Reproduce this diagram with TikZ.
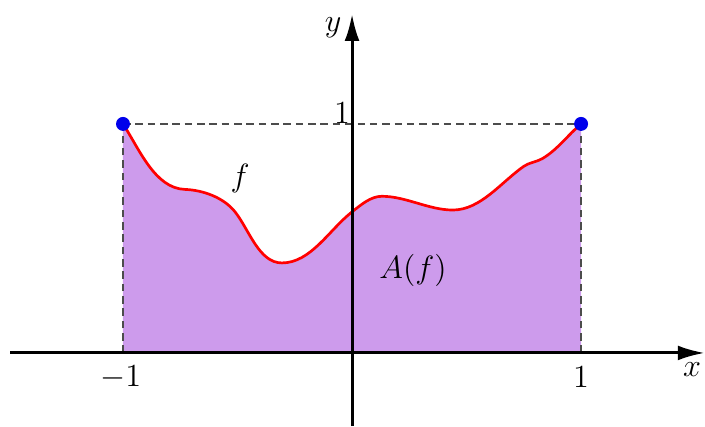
\documentclass[tikz,border=0pt]{standalone}
\usepackage{amsmath,amssymb}
\usepackage{xcolor}
\usepackage{tikz}
\usetikzlibrary{arrows.meta,calc}
\definecolor{areafill}{RGB}{205,155,236}
\definecolor{dotblue}{RGB}{0,0,235}
\newcommand{\fgraph}{(-1.000,1.000) to[out=-57,in=178] (-0.730,0.714)
  to[out=-2,in=128] (-0.510,0.615) to[out=-52,in=180] (-0.306,0.393)
  to[out=0,in=-142] (0.000,0.616) to[out=38,in=180] (0.130,0.684)
  to[out=0,in=180] (0.440,0.624) to[out=0,in=-145] (0.750,0.815)
  to[out=35,in=-150] (0.830,0.848) to[out=30,in=-140] (1.000,1.000)}

\begin{document}
\begin{tikzpicture}[x=3cm,y=3cm,>={Latex[length=10pt,width=5.5pt]},line join=round,font=\large,looseness=0.85]
  \useasboundingbox (-1.537,-0.319) rectangle (1.541,1.541);
  \coordinate (O) at (0.000,0.000);
  \coordinate (XL) at (-1.493,0.000);
  \coordinate (XR) at (1.540,0.000);
  \coordinate (YB) at (0.000,-0.319);
  \coordinate (YT) at (0.000,1.480);
  \coordinate (A) at (-1.000,1.000);
  \coordinate (B) at (1.000,1.000);
  \coordinate (A0) at (-1.000,0.000);
  \coordinate (B0) at (1.000,0.000);
  \fill[areafill] (A0) -- \fgraph -- (B0) -- cycle;
  \draw[black!70,line width=0.8pt,dash pattern=on 2.8pt off 1.8pt] (A0) -- (A);
  \draw[black!70,line width=0.8pt,dash pattern=on 2.8pt off 1.8pt] (B0) -- (B);
  \draw[black!70,line width=0.8pt,dash pattern=on 2.8pt off 1.8pt] (A) -- (B);
  \draw[red,line width=1pt] \fgraph;
  \draw[->,line width=1.1pt] (XL) -- (XR);
  \draw[->,line width=1.1pt] (YB) -- (YT);
  \fill[dotblue] (A) circle (2.6pt);
  \fill[dotblue] (B) circle (2.6pt);
  \node (xlab) at (1.485,-0.074) {$x$};
  \node (ylab) at (-0.083,1.419) {$y$};
  \node (mone) at (-1.010,-0.105) {$-1$};
  \node (pone) at (1.000,-0.105) {$1$};
  \node (yone) at (-0.044,1.048) {$1$};
  \node (flab) at (-0.489,0.764) {$f$};
  \node (Alab) at (0.266,0.362) {$A(f)$};
\end{tikzpicture}
\end{document}
